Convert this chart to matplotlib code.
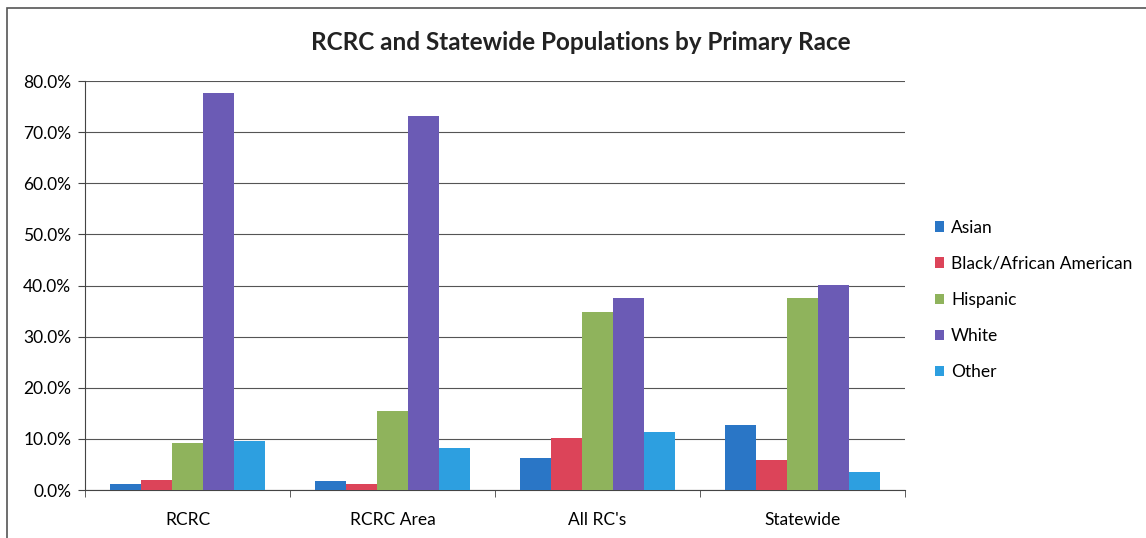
import numpy as np
import matplotlib.pyplot as plt
from matplotlib.patches import Rectangle
from matplotlib.ticker import FuncFormatter

plt.rcParams["font.family"] = ["Lato", "DejaVu Sans"]

groups = ["RCRC", "RCRC Area", "All RC's", "Statewide"]
races = ["Asian", "Black/African American", "Hispanic", "White", "Other"]
asian = [1.2, 1.8, 6.3, 12.8]
black = [2.0, 1.2, 10.1, 5.8]
hispanic = [9.2, 15.5, 34.8, 37.6]
white = [77.7, 73.2, 37.5, 40.1]
other = [9.6, 8.3, 11.4, 3.6]
colors = ["#2A76C6", "#DC4459", "#8FB35C", "#6B5BB5", "#2D9FE0"]

series = [asian, black, hispanic, white, other]

fig = plt.figure(figsize=(11.46, 5.38), dpi=100)
ax = fig.add_axes([0.0742, 0.0892, 0.7155, 0.7602])

x = np.arange(len(groups))
w = 0.151
for i, (vals, name) in enumerate(zip(series, races)):
    ax.bar(x + (i - 2) * w, vals, w, color=colors[i], label=name, zorder=3)

ax.set_xlim(-0.5, 3.5)
ax.set_ylim(0, 80)
ax.set_yticks(np.arange(0, 81, 10))
ax.yaxis.set_major_formatter(FuncFormatter(lambda v, p: f"{v:.1f}%"))
ax.set_xticks(x)
ax.set_xticklabels(groups)
ax.set_xticks(np.arange(-0.5, 3.6, 1), minor=True)
ax.tick_params(axis='x', which='major', length=0, pad=16, labelsize=12.5)
ax.tick_params(axis='x', which='minor', length=5, direction='out', color='#444444')
ax.tick_params(axis='y', length=5, direction='out', labelsize=12.5, color='#444444', pad=5)
ax.grid(axis='y', color='#555555', linewidth=0.8, zorder=0)
for s in ['top', 'right']:
    ax.spines[s].set_visible(False)
for s in ['left', 'bottom']:
    ax.spines[s].set_color('#444444')

fig.text(581 / 1146, 1 - 43 / 538, "RCRC and Statewide Populations by Primary Race",
         ha='center', va='center', fontsize=17.5, weight='bold', color='#222222')

fig.legend(loc='upper left', bbox_to_anchor=(919 / 1146, 1 - 204 / 538),
           frameon=False, fontsize=12.5, handlelength=0.55, handleheight=0.55,
           handletextpad=0.4, labelspacing=1.16)

fig.add_artist(Rectangle((7 / 1146, -0.1), 1.2, 1.1 - 8 / 538,
                         transform=fig.transFigure, fill=False,
                         edgecolor='#555555', linewidth=1.2))

plt.savefig("out.png", dpi=100)
